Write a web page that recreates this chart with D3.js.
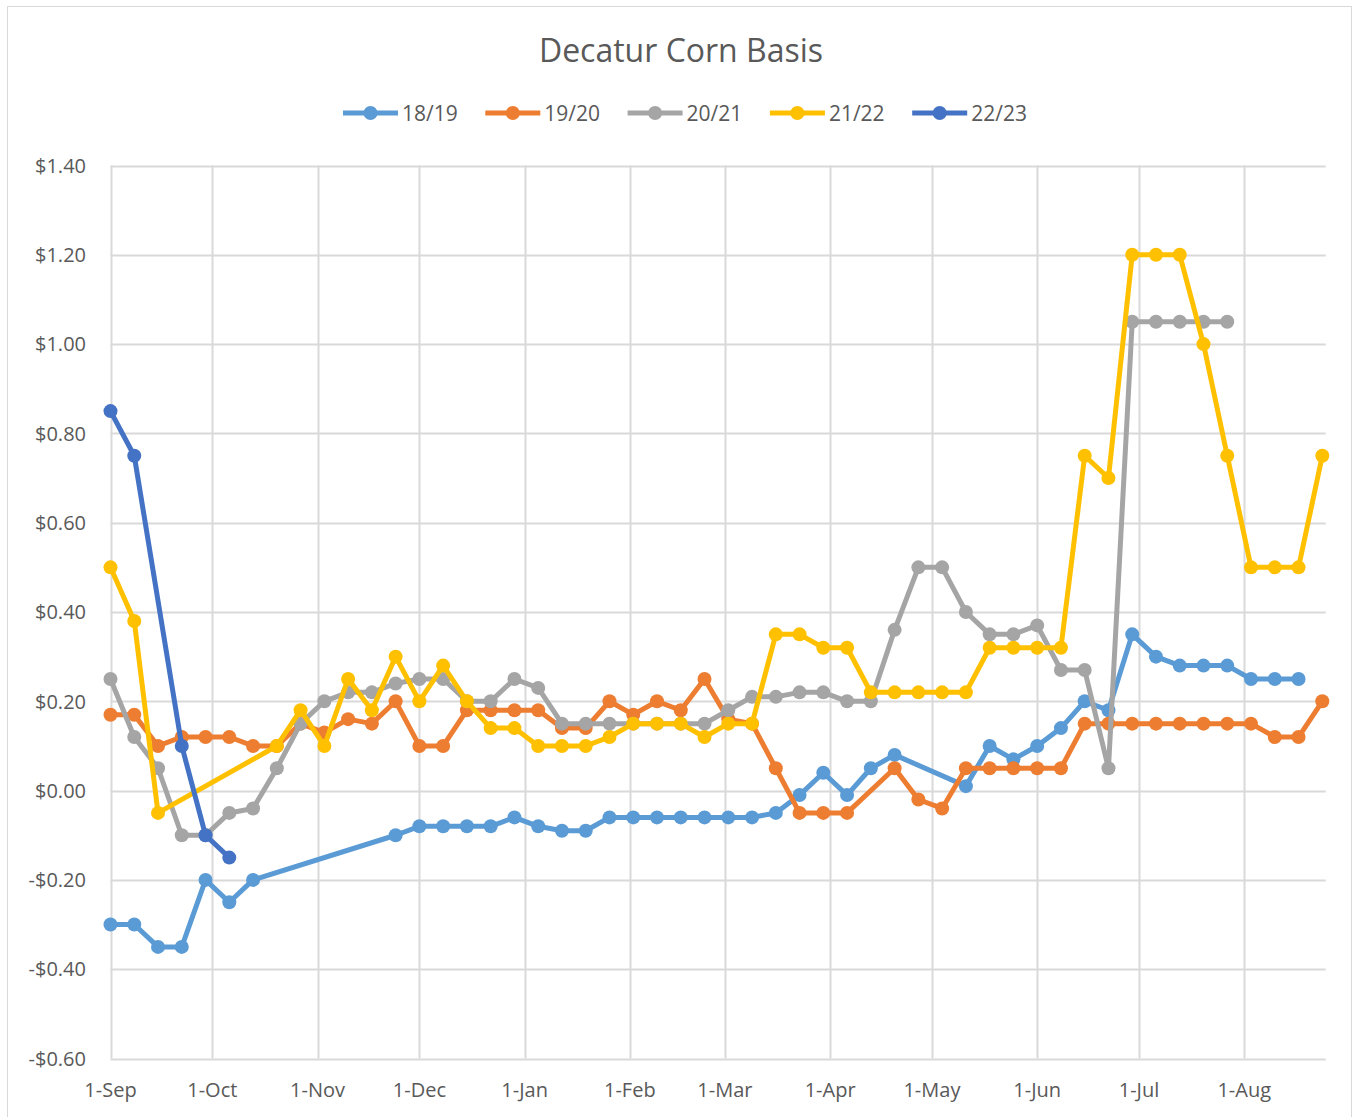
<!DOCTYPE html>
<html>
<head>
<meta charset="utf-8">
<script src="https://cdn.jsdelivr.net/npm/d3@7"></script>
<style>
    body { margin: 0; background: #fff; }
    text { font-family: "Open Sans", sans-serif; fill: #595959; }
</style>
</head>
<body>
<div class="chart"></div>
<script>
// weekly observation dates (plotted on one Sep -> Aug season axis)
var weeks = [
    "2021-09-01","2021-09-08","2021-09-15","2021-09-22","2021-09-29",
    "2021-10-06","2021-10-13","2021-10-20","2021-10-27",
    "2021-11-03","2021-11-10","2021-11-17","2021-11-24",
    "2021-12-01","2021-12-08","2021-12-15","2021-12-22","2021-12-29",
    "2022-01-05","2022-01-12","2022-01-19","2022-01-26",
    "2022-02-02","2022-02-09","2022-02-16","2022-02-23",
    "2022-03-02","2022-03-09","2022-03-16","2022-03-23","2022-03-30",
    "2022-04-06","2022-04-13","2022-04-20","2022-04-27",
    "2022-05-04","2022-05-11","2022-05-18","2022-05-25",
    "2022-06-01","2022-06-08","2022-06-15","2022-06-22","2022-06-29",
    "2022-07-06","2022-07-13","2022-07-20","2022-07-27",
    "2022-08-03","2022-08-10","2022-08-17","2022-08-24"
];

var seriesNames = ["18/19", "19/20", "20/21", "21/22", "22/23"];
var seriesColors = ["#5B9BD5", "#ED7D31", "#A5A5A5", "#FFC000", "#4472C4"];

var basis1819 = [-0.30,-0.30,-0.35,-0.35,-0.20,-0.25,-0.20,null,null,null,null,null,-0.10,
    -0.08,-0.08,-0.08,-0.08,-0.06,-0.08,-0.09,-0.09,-0.06,-0.06,-0.06,-0.06,-0.06,-0.06,-0.06,
    -0.05,-0.01,0.04,-0.01,0.05,0.08,null,null,0.01,0.10,0.07,0.10,0.14,0.20,0.18,0.35,
    0.30,0.28,0.28,0.28,0.25,0.25,0.25,null];
var basis1920 = [0.17,0.17,0.10,0.12,0.12,0.12,0.10,0.10,0.15,0.13,0.16,0.15,0.20,
    0.10,0.10,0.18,0.18,0.18,0.18,0.14,0.14,0.20,0.17,0.20,0.18,0.25,0.16,0.15,
    0.05,-0.05,-0.05,-0.05,null,0.05,-0.02,-0.04,0.05,0.05,0.05,0.05,0.05,0.15,0.15,0.15,
    0.15,0.15,0.15,0.15,0.15,0.12,0.12,0.20];
var basis2021 = [0.25,0.12,0.05,-0.10,-0.10,-0.05,-0.04,0.05,0.15,0.20,0.22,0.22,0.24,
    0.25,0.25,0.20,0.20,0.25,0.23,0.15,0.15,0.15,0.15,0.15,0.15,0.15,0.18,0.21,
    0.21,0.22,0.22,0.20,0.20,0.36,0.50,0.50,0.40,0.35,0.35,0.37,0.27,0.27,0.05,1.05,
    1.05,1.05,1.05,1.05,null,null,null,null];
var basis2122 = [0.50,0.38,-0.05,null,null,null,null,0.10,0.18,0.10,0.25,0.18,0.30,
    0.20,0.28,0.20,0.14,0.14,0.10,0.10,0.10,0.12,0.15,0.15,0.15,0.12,0.15,0.15,
    0.35,0.35,0.32,0.32,0.22,0.22,0.22,0.22,0.22,0.32,0.32,0.32,0.32,0.75,0.70,1.20,
    1.20,1.20,1.00,0.75,0.50,0.50,0.50,0.75];
var basis2223 = [0.85,0.75,null,0.10,-0.10,-0.15];

var yTicks = [-0.6, -0.4, -0.2, 0, 0.2, 0.4, 0.6, 0.8, 1.0, 1.2, 1.4];

var allSeries = [basis1819, basis1920, basis2021, basis2122, basis2223];

var W = 1353, H = 1117;
var plotLeft = 110.5, plotRight = 1325.7, plotTop = 165.5, plotBottom = 1058.5;

var parseDate = d3.timeParse("%Y-%m-%d");
var dates = weeks.map(parseDate);

var x = d3.scaleTime()
    .domain([parseDate("2021-09-01"), parseDate("2022-08-25")])
    .range([plotLeft, plotRight]);
var y = d3.scaleLinear().domain([-0.6, 1.4]).range([plotBottom, plotTop]);

var svg = d3.select(".chart").append("svg")
    .attr("width", W)
    .attr("height", H);

// chart area border
svg.append("rect")
    .attr("x", 7.5).attr("y", 6.5)
    .attr("width", 1344).attr("height", 1120)
    .attr("fill", "#fff")
    .attr("stroke", "#D9D9D9")
    .attr("stroke-width", 1);

// title
svg.append("text")
    .attr("x", 681).attr("y", 62)
    .attr("text-anchor", "middle")
    .style("font-size", "32px")
    .text("Decatur Corn Basis");

// horizontal gridlines + y labels
svg.append("g").selectAll("line")
    .data(yTicks).enter().append("line")
    .attr("x1", plotLeft).attr("x2", plotRight)
    .attr("y1", function(d) { return Math.round(y(d)) + 0.5; })
    .attr("y2", function(d) { return Math.round(y(d)) + 0.5; })
    .attr("stroke", "#D9D9D9")
    .attr("stroke-width", 2);

var fmt = function(v) {
    var s = "$" + Math.abs(v).toFixed(2);
    return v < -1e-9 ? "-" + s : s;
};
svg.append("g").selectAll("text")
    .data(yTicks).enter().append("text")
    .attr("x", 86)
    .attr("y", function(d) { return y(d); })
    .attr("dy", "0.36em")
    .attr("text-anchor", "end")
    .style("font-size", "20px")
    .text(fmt);

// vertical gridlines at month starts + x labels
var months = d3.timeMonth.range(parseDate("2021-09-01"), parseDate("2022-08-25"));
svg.append("g").selectAll("line")
    .data(months).enter().append("line")
    .attr("x1", function(d) { return Math.round(x(d)) + 0.5; })
    .attr("x2", function(d) { return Math.round(x(d)) + 0.5; })
    .attr("y1", plotTop).attr("y2", plotBottom)
    .attr("stroke", "#D9D9D9")
    .attr("stroke-width", 2);

svg.append("g").selectAll("text")
    .data(months).enter().append("text")
    .attr("x", function(d) { return x(d); })
    .attr("y", 1097)
    .attr("text-anchor", "middle")
    .style("font-size", "20px")
    .text(d3.timeFormat("%-d-%b"));

// the season lines (missing weeks are skipped and bridged)
var line = d3.line()
    .x(function(d) { return x(d.date); })
    .y(function(d) { return y(d.value); });

allSeries.forEach(function(vals, i) {
    var pts = [];
    vals.forEach(function(v, j) {
        if (v !== null) pts.push({date: dates[j], value: v});
    });
    var g = svg.append("g").attr("class", "series" + i);
    g.append("path")
        .datum(pts)
        .attr("fill", "none")
        .attr("stroke", seriesColors[i])
        .attr("stroke-width", 5)
        .attr("stroke-linejoin", "round")
        .attr("d", line);
    g.selectAll("circle")
        .data(pts).enter().append("circle")
        .attr("cx", function(d) { return x(d.date); })
        .attr("cy", function(d) { return y(d.value); })
        .attr("r", 7)
        .attr("fill", seriesColors[i]);
});

// legend
var legend = svg.append("g").selectAll("g")
    .data(seriesNames).enter().append("g")
    .attr("transform", function(d, i) { return "translate(" + (343 + i * 142.3) + ",113)"; });
legend.append("line")
    .attr("x1", 0).attr("x2", 55)
    .attr("stroke", function(d, i) { return seriesColors[i]; })
    .attr("stroke-width", 5);
legend.append("circle")
    .attr("cx", 27.5).attr("r", 7)
    .attr("fill", function(d, i) { return seriesColors[i]; });
legend.append("text")
    .attr("x", 59).attr("dy", "0.36em")
    .style("font-size", "21px")
    .text(function(d) { return d; });
</script>
</body>
</html>
